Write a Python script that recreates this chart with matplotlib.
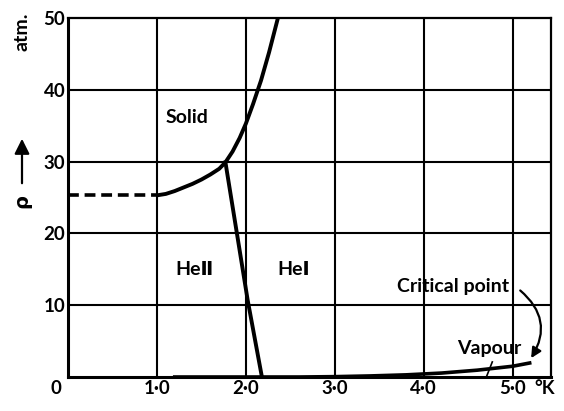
import matplotlib
matplotlib.use("Agg")
import matplotlib.pyplot as plt

# ---- data ----
dashed_T = [0.0, 1.0]
dashed_P = [25.3, 25.3]

melt_T = [1.0, 1.1, 1.2, 1.3, 1.4, 1.5, 1.6, 1.7, 1.77, 1.85, 1.93, 2.0, 2.08, 2.17, 2.26, 2.36]
melt_P = [25.3, 25.5, 25.9, 26.4, 26.9, 27.5, 28.2, 29.0, 29.9, 31.4, 33.3, 35.3, 38.0, 41.3, 45.2, 50.0]

lambda_T = [1.77, 2.02, 2.18]
lambda_P = [29.9, 10.7, 0.0]

vap_T = [1.2, 2.2, 2.6, 3.0, 3.4, 3.8, 4.2, 4.6, 5.0, 5.19]
vap_P = [0.0, 0.0, 0.0, 0.05, 0.15, 0.3, 0.55, 0.95, 1.5, 1.95]
critical_T, critical_P = 5.19, 2.0

x_ticks = [1, 2, 3, 4, 5]
x_labels = ["1·0", "2·0", "3·0", "4·0", "5·0"]
y_ticks = [10, 20, 30, 40, 50]
y_labels = ["10", "20", "30", "40", "50"]

FONT = ["Lato", "DejaVu Sans"]
plt.rcParams["font.family"] = FONT

fig = plt.figure(figsize=(5.64, 4.11), dpi=100)
W, H = 564, 411
ax = fig.add_axes([68 / W, 34 / H, (551 - 68) / W, (377 - 18) / H])
ax.set_xlim(0, 5.43)
ax.set_ylim(0, 50)

for s in ["top", "right"]:
    ax.spines[s].set_linewidth(1.6)
for s in ["left", "bottom"]:
    ax.spines[s].set_linewidth(2.2)
for s in ax.spines.values():
    s.set_color("black")

for xv in x_ticks:
    ax.axvline(xv, color="black", lw=1.5, zorder=1)
for yv in y_ticks[:-1]:
    ax.axhline(yv, color="black", lw=1.5, zorder=1)

ax.set_xticks(x_ticks)
ax.set_xticklabels(x_labels, fontsize=13.5, fontweight="bold")
ax.set_yticks(y_ticks)
ax.set_yticklabels(y_labels, fontsize=13.5, fontweight="bold")
ax.tick_params(length=0, pad=2)

# curves
ax.plot(dashed_T, dashed_P, color="black", lw=2.6, ls=(0, (3, 1.6)), zorder=3)
ax.plot(melt_T, melt_P, color="black", lw=2.8, zorder=3, solid_capstyle="butt")
ax.plot(lambda_T, lambda_P, color="black", lw=2.8, zorder=3)
ax.plot(vap_T, vap_P, color="black", lw=2.6, zorder=3, clip_on=False)

# labels
tk = dict(fontsize=14, fontweight="bold", color="black")
ax.text(1.34, 36.1, "Solid", ha="center", va="center", **tk)
ax.text(1.42, 15.0, "He\u2161", ha="center", va="center", **tk)
ax.text(2.54, 15.0, "He\u2160", ha="center", va="center", **tk)
ax.text(4.33, 12.6, "Critical point", ha="center", va="center", **tk)
ax.text(4.74, 3.9, "Vapour", ha="center", va="center", **tk)
ax.plot([4.77, 4.70], [2.1, -0.1], color="black", lw=1.2, zorder=3, clip_on=False)

ax.annotate("", xy=(critical_T, critical_P + 0.3), xytext=(5.06, 12.3),
            arrowprops=dict(arrowstyle="-|>,head_length=0.6,head_width=0.3",
                            color="black", lw=1.6,
                            connectionstyle="arc3,rad=-0.45"))

# origin label and unit
fig.text(56 / W, 1 - 388 / H, "0", ha="center", va="center", fontsize=13.5,
         fontweight="bold")
ax.text(5.36, -1.55, "°K", ha="center", va="center", fontsize=13.5,
        fontweight="bold")

# y axis label: rho with arrow, atm.
fig.text(22 / W, 1 - 201 / H, "ρ", rotation=90, ha="center", va="center",
         fontsize=14, fontweight="bold", family=["DejaVu Sans"])
fig.add_artist(matplotlib.patches.FancyArrowPatch(
    (22 / W, 1 - 186 / H), (22 / W, 1 - 136 / H), transform=fig.transFigure,
    arrowstyle="-|>,head_length=6,head_width=3", mutation_scale=1.5,
    color="black", lw=1.6))
fig.text(22 / W, 1 - 32 / H, "atm.", rotation=90, ha="center", va="center", **tk)

fig.savefig("out.png", dpi=100)
